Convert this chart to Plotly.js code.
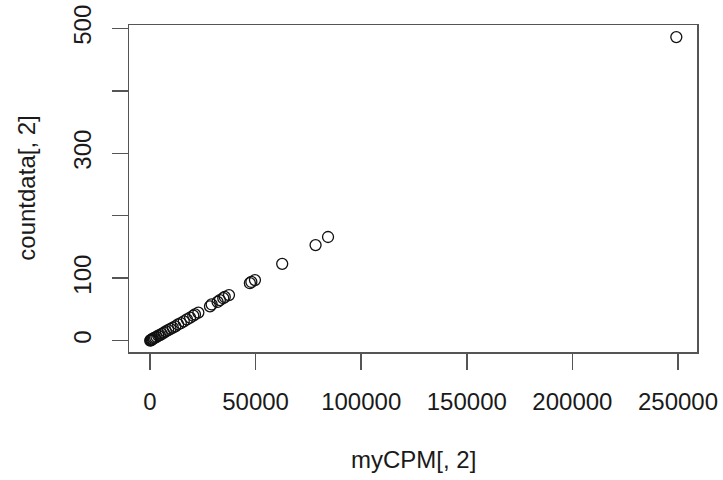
<!DOCTYPE html>
<html>
<head>
<meta charset="utf-8">
<script src="https://cdn.plot.ly/plotly-3.0.1.min.js"></script>
<style>html,body{margin:0;padding:0;background:#fff;}#chart{width:723px;height:480px;}</style>
</head>
<body>
<div id="chart"></div>
<script>
// myCPM[, 2] values (x) and countdata[, 2] values (y)
var myCPM = [120, 350, 600, 900, 1300, 1800, 2400, 3100, 3900, 4700, 5600, 6600, 7500, 8600, 9700, 10800, 12000, 13300, 14600, 16000, 17500, 19000, 20500, 21300, 22900, 28400, 29200, 32000, 33100, 34700, 35400, 37400, 47300, 48000, 49700, 62600, 78400, 84300, 249200];
var countdata = [0, 1, 1, 2, 3, 4, 5, 6, 8, 9, 11, 13, 15, 17, 19, 21, 23, 26, 28, 31, 34, 37, 40, 42, 45, 55, 58, 62, 65, 68, 70, 73, 92, 94, 97, 123, 153, 166, 486];
var xTicks = [0, 50000, 100000, 150000, 200000, 250000];
var yTicks = [0, 100, 200, 300, 400, 500];
var yTickText = ["0", "100", "", "300", "", "500"];
var xLabel = "myCPM[, 2]";
var yLabel = "countdata[, 2]";

var font = "Liberation Sans, Arial, Helvetica, sans-serif";
var trace = {
  x: myCPM, y: countdata, type: "scatter", mode: "markers",
  marker: {symbol: "circle-open", size: 11, color: "#111", line: {width: 1.3, color: "#111"}},
  hoverinfo: "none"
};
var layout = {
  width: 723, height: 480,
  margin: {l: 129, r: 25.5, t: 25, b: 128, pad: 0},
  paper_bgcolor: "#fff", plot_bgcolor: "#fff",
  showlegend: false,
  font: {family: font, size: 24, color: "#1a1a1a"},
  xaxis: {
    range: [-9934, 258990], tickmode: "array", tickvals: xTicks,
    ticktext: xTicks.map(String),
    showgrid: false, zeroline: false, showline: true, mirror: true,
    linecolor: "#555", linewidth: 1.5,
    ticks: "outside", ticklen: 16, tickwidth: 1.5, tickcolor: "#555",
    ticklabelstandoff: 12,
    tickfont: {family: font, size: 24, color: "#1a1a1a"}
  },
  yaxis: {
    range: [-18.1, 505.3], tickmode: "array", tickvals: yTicks,
    ticktext: yTickText, tickangle: -90,
    showgrid: false, zeroline: false, showline: true, mirror: true,
    linecolor: "#555", linewidth: 1.5,
    ticks: "outside", ticklen: 16, tickwidth: 1.5, tickcolor: "#555",
    ticklabelstandoff: 11,
    tickfont: {family: font, size: 24, color: "#1a1a1a"}
  },
  annotations: [
    {text: xLabel, xref: "paper", yref: "paper", x: 0.5, y: -0.33, xanchor: "center", yanchor: "middle",
     showarrow: false, font: {family: font, size: 24, color: "#1a1a1a"}},
    {text: yLabel, xref: "paper", yref: "paper", x: -0.181, y: 0.5, xanchor: "center", yanchor: "middle",
     textangle: -90, showarrow: false, font: {family: font, size: 24, color: "#1a1a1a"}}
  ]
};
Plotly.newPlot("chart", [trace], layout, {staticPlot: true, displayModeBar: false});
</script>
</body>
</html>
